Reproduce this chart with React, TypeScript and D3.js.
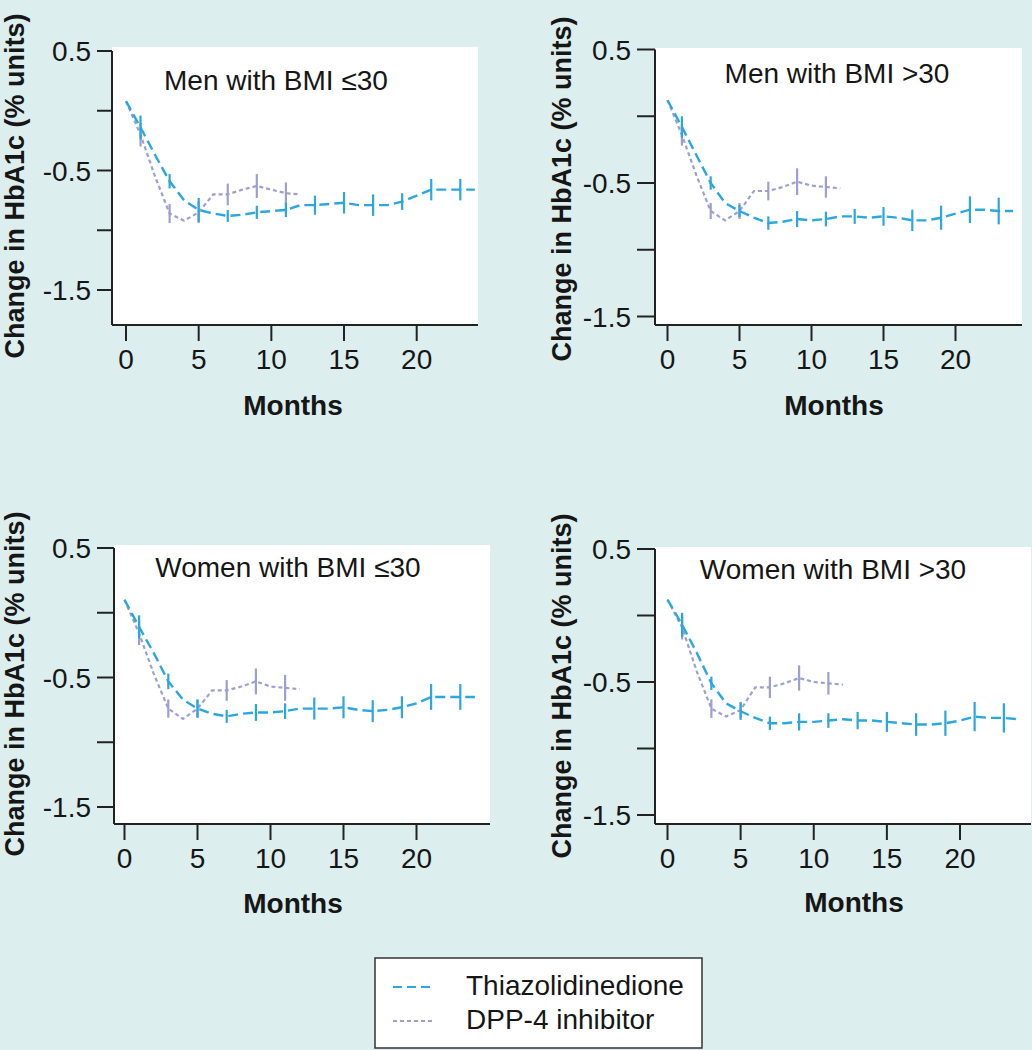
import * as d3 from 'd3';

// months at which each series has a mean
const tzdMonths = [0, 1, 2, 3, 4, 5, 6, 7, 8, 9, 10, 11, 12, 13, 14, 15, 16, 17, 18, 19, 20, 21, 22, 23, 24];
const dppMonths = [0, 1, 2, 3, 4, 5, 6, 7, 8, 9, 10, 11, 12];
// months that carry an error bar
const tzdErrMonths = [1, 3, 5, 7, 9, 11, 13, 15, 17, 19, 21, 23];
const dppErrMonths = [1, 3, 5, 7, 9, 11];

const yTicks = [0.5, 0, -0.5, -1, -1.5];
const yTickLabels = ['0.5', '', '-0.5', '', '-1.5'];
const xTicks = [0, 5, 10, 15, 20];
const seriesNames = ['Thiazolidinedione', 'DPP-4 inhibitor'];
const panelTitles = ['Men with BMI \u226430', 'Men with BMI >30', 'Women with BMI \u226430', 'Women with BMI >30'];

// Men, BMI <= 30
const menLowTzd = [0.08, -0.14, -0.37, -0.59, -0.75, -0.83, -0.86, -0.88, -0.87, -0.85, -0.84, -0.83, -0.79, -0.79, -0.78, -0.77, -0.79, -0.79, -0.79, -0.76, -0.71, -0.66, -0.66, -0.66, -0.66];
const menLowTzdErr = [0.10, 0.06, 0.10, 0.05, 0.055, 0.06, 0.08, 0.09, 0.09, 0.07, 0.09, 0.09];
const menLowDpp = [0.08, -0.20, -0.55, -0.86, -0.92, -0.85, -0.70, -0.70, -0.66, -0.63, -0.66, -0.69, -0.70];
const menLowDppErr = [0.10, 0.08, 0.09, 0.09, 0.10, 0.09];

// Men, BMI > 30
const menHighTzd = [0.12, -0.08, -0.29, -0.50, -0.65, -0.71, -0.76, -0.80, -0.79, -0.77, -0.78, -0.77, -0.75, -0.75, -0.76, -0.75, -0.76, -0.78, -0.78, -0.76, -0.73, -0.70, -0.70, -0.71, -0.71];
const menHighTzdErr = [0.08, 0.05, 0.045, 0.05, 0.06, 0.055, 0.056, 0.07, 0.08, 0.09, 0.10, 0.10];
const menHighDpp = [0.12, -0.14, -0.44, -0.71, -0.78, -0.71, -0.56, -0.56, -0.53, -0.49, -0.52, -0.53, -0.54];
const menHighDppErr = [0.08, 0.06, 0.06, 0.07, 0.10, 0.08];

// Women, BMI <= 30
const womenLowTzd = [0.10, -0.11, -0.31, -0.53, -0.67, -0.74, -0.78, -0.80, -0.78, -0.77, -0.77, -0.76, -0.74, -0.74, -0.74, -0.73, -0.75, -0.76, -0.75, -0.73, -0.70, -0.65, -0.65, -0.65, -0.65];
const womenLowTzdErr = [0.09, 0.06, 0.07, 0.05, 0.065, 0.06, 0.085, 0.085, 0.085, 0.085, 0.10, 0.10];
const womenLowDpp = [0.10, -0.16, -0.47, -0.74, -0.82, -0.74, -0.60, -0.60, -0.57, -0.53, -0.57, -0.58, -0.59];
const womenLowDppErr = [0.09, 0.07, 0.07, 0.08, 0.10, 0.10];

// Women, BMI > 30
const womenHighTzd = [0.12, -0.07, -0.28, -0.51, -0.66, -0.72, -0.77, -0.81, -0.81, -0.80, -0.80, -0.79, -0.78, -0.79, -0.79, -0.80, -0.81, -0.82, -0.82, -0.81, -0.79, -0.76, -0.77, -0.77, -0.78];
const womenHighTzdErr = [0.09, 0.05, 0.065, 0.05, 0.065, 0.055, 0.065, 0.075, 0.085, 0.095, 0.11, 0.11];
const womenHighDpp = [0.12, -0.09, -0.42, -0.70, -0.76, -0.71, -0.54, -0.54, -0.51, -0.47, -0.50, -0.51, -0.52];
const womenHighDppErr = [0.09, 0.07, 0.06, 0.08, 0.095, 0.085];

const BG = '#ddeeee';
const TZD_COLOR = '#2ba6df';
const DPP_COLOR = '#9d9fd0';
const AXIS = '#222';
const TEXT = '#161616';
const FONT = '"Liberation Sans", Arial, Helvetica, sans-serif';

interface PanelLayout {
  left: number; right: number; top: number; bottom: number;
  x0: number; x20: number; y05: number; y15: number; tickLen: number;
  titleX: number; titleY: number; monthsX: number; monthsY: number;
  yTitleX: number; yTitleY: number;
}

const layouts: PanelLayout[] = [
  { left: 112, right: 478, top: 47, bottom: 325, x0: 126, x20: 416.7, y05: 51, y15: 290, tickLen: 15,
    titleX: 276, titleY: 90, monthsX: 293, monthsY: 415, yTitleX: 24, yTitleY: 186 },
  { left: 655, right: 1022, top: 48, bottom: 325, x0: 667.5, x20: 955.5, y05: 49.5, y15: 316.5, tickLen: 18,
    titleX: 837, titleY: 83, monthsX: 834, monthsY: 415, yTitleX: 571, yTitleY: 189 },
  { left: 114, right: 490, top: 545, bottom: 824, x0: 124.5, x20: 416.5, y05: 548, y15: 807, tickLen: 17,
    titleX: 288, titleY: 577, monthsX: 293, monthsY: 913, yTitleX: 24, yTitleY: 684 },
  { left: 655, right: 1031, top: 547, bottom: 824, x0: 667.5, x20: 960, y05: 549, y15: 815, tickLen: 18,
    titleX: 833, titleY: 579, monthsX: 854, monthsY: 912, yTitleX: 571, yTitleY: 686 },
];

const panelData = [
  { tzd: menLowTzd, tzdErr: menLowTzdErr, dpp: menLowDpp, dppErr: menLowDppErr },
  { tzd: menHighTzd, tzdErr: menHighTzdErr, dpp: menHighDpp, dppErr: menHighDppErr },
  { tzd: womenLowTzd, tzdErr: womenLowTzdErr, dpp: womenLowDpp, dppErr: womenLowDppErr },
  { tzd: womenHighTzd, tzdErr: womenHighTzdErr, dpp: womenHighDpp, dppErr: womenHighDppErr },
];

function Panel({ idx }: { idx: number }) {
  const L = layouts[idx];
  const d = panelData[idx];
  const x = d3.scaleLinear().domain([0, 20]).range([L.x0, L.x20]);
  const y = d3.scaleLinear().domain([-1.5, 0.5]).range([L.y15, L.y05]);
  const line = d3.line<[number, number]>().x(p => x(p[0])).y(p => y(p[1]));

  const tzdPts = tzdMonths.map((m, i) => [m, d.tzd[i]] as [number, number]);
  const dppPts = dppMonths.map((m, i) => [m, d.dpp[i]] as [number, number]);
  const valAt = (months: number[], vals: number[], m: number) => vals[months.indexOf(m)];

  return (
    <g>
      <rect x={L.left} y={L.top} width={L.right - L.left} height={L.bottom - L.top} fill="#fff" />
      {/* series */}
      <path d={line(dppPts) ?? ''} fill="none" stroke={DPP_COLOR} strokeWidth={2.2} strokeDasharray="4,3" />
      {dppErrMonths.map((m, i) => {
        const v = valAt(dppMonths, d.dpp, m);
        return <line key={'de' + m} x1={x(m)} x2={x(m)} y1={y(v + d.dppErr[i])} y2={y(v - d.dppErr[i])}
          stroke={DPP_COLOR} strokeWidth={2.2} />;
      })}
      <path d={line(tzdPts) ?? ''} fill="none" stroke={TZD_COLOR} strokeWidth={2.4} strokeDasharray="10,5" />
      {tzdErrMonths.map((m, i) => {
        const v = valAt(tzdMonths, d.tzd, m);
        return <line key={'te' + m} x1={x(m)} x2={x(m)} y1={y(v + d.tzdErr[i])} y2={y(v - d.tzdErr[i])}
          stroke={TZD_COLOR} strokeWidth={2.2} />;
      })}

      {/* y axis */}
      <line x1={L.left} x2={L.left} y1={y(0.5)} y2={L.bottom} stroke={AXIS} strokeWidth={2} />
      {yTicks.map((t, i) => (
        <g key={'yt' + t}>
          <line x1={L.left - L.tickLen} x2={L.left} y1={y(t)} y2={y(t)} stroke={AXIS} strokeWidth={2} />
          <text x={L.left - L.tickLen - 6} y={y(t)} dy="0.36em" textAnchor="end" fontSize={28} fill={TEXT}>
            {yTickLabels[i]}
          </text>
        </g>
      ))}
      {/* x axis */}
      <line x1={L.left} x2={L.right} y1={L.bottom} y2={L.bottom} stroke={AXIS} strokeWidth={2} />
      {xTicks.map(t => (
        <g key={'xt' + t}>
          <line x1={x(t)} x2={x(t)} y1={L.bottom} y2={L.bottom + 16} stroke={AXIS} strokeWidth={2} />
          <text x={x(t)} y={L.bottom + 44} textAnchor="middle" fontSize={28} fill={TEXT}>{t}</text>
        </g>
      ))}

      <text x={L.titleX} y={L.titleY} textAnchor="middle" fontSize={28} fill={TEXT}>{panelTitles[idx]}</text>
      <text x={L.monthsX} y={L.monthsY} textAnchor="middle" fontSize={28} fontWeight="bold" fill={TEXT}>Months</text>
      <text transform={`translate(${L.yTitleX},${L.yTitleY}) rotate(-90)`} textAnchor="middle" fontSize={27}
        fontWeight="bold" fill={TEXT}>Change in HbA1c (% units)</text>
    </g>
  );
}

export default function App() {
  return (
    <svg width={1032} height={1050} style={{ position: 'absolute', left: 0, top: 0, fontFamily: FONT }}>
      <rect x={0} y={0} width={1032} height={1050} fill={BG} />
      {layouts.map((_, i) => <Panel key={i} idx={i} />)}

      {/* legend */}
      <rect x={375} y={958} width={327} height={90} fill="#fff" stroke="#333" strokeWidth={1.5} />
      <line x1={393} x2={432} y1={987} y2={987} stroke={TZD_COLOR} strokeWidth={2} strokeDasharray="9,5" />
      <text x={466} y={995} fontSize={28} fill={TEXT}>{seriesNames[0]}</text>
      <line x1={393} x2={432} y1={1021} y2={1021} stroke={DPP_COLOR} strokeWidth={2} strokeDasharray="4,3" />
      <text x={466} y={1029} fontSize={28} fill={TEXT}>{seriesNames[1]}</text>
    </svg>
  );
}
